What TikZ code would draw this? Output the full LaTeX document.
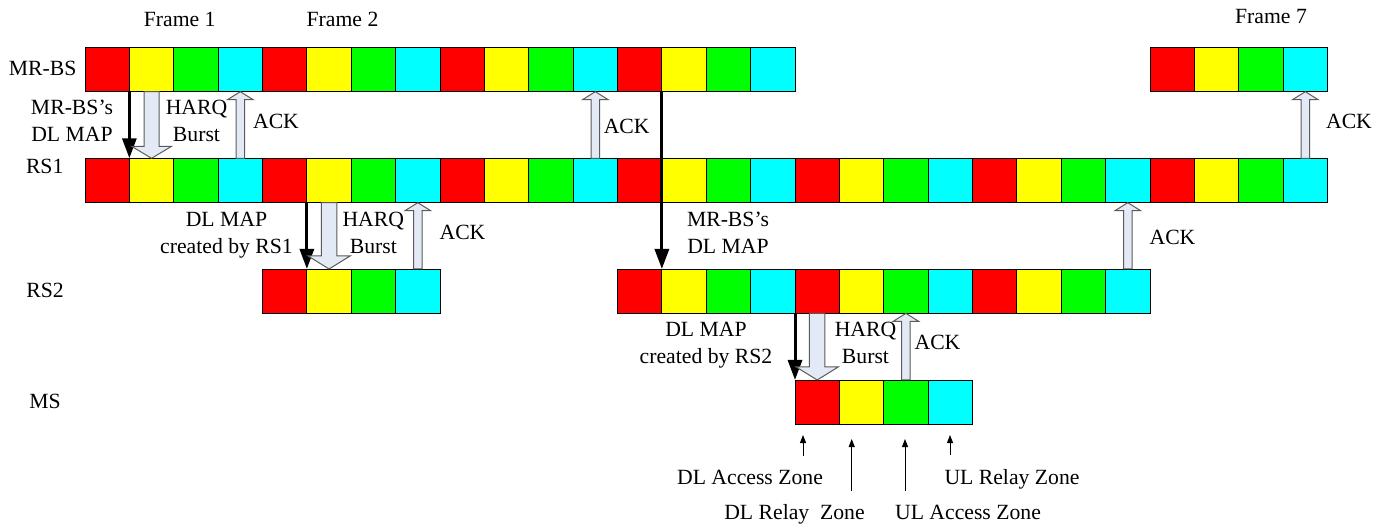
\documentclass[tikz,border=0pt]{standalone}
\usepackage{fontspec}
\setmainfont{Liberation Serif}
\usetikzlibrary{arrows.meta,calc}
\definecolor{c0}{RGB}{255,0,0}
\definecolor{c1}{RGB}{255,255,0}
\definecolor{c2}{RGB}{0,255,0}
\definecolor{c3}{RGB}{0,255,255}
\definecolor{arrowfill}{RGB}{228,234,245}
\definecolor{arrowdraw}{RGB}{90,90,90}
\newcommand\blockdown[5]{\path[hollow] let \p1=(#1), \p2=(#2) in
  (\x1-#3,\y1) -- (\x1-#3,\y2+#5) -- (\x1-#4,\y2+#5) -- (\x1,\y2) -- (\x1+#4,\y2+#5) -- (\x1+#3,\y2+#5) -- (\x1+#3,\y1) -- cycle;}
\newcommand\blockup[5]{\path[hollow] let \p1=(#1), \p2=(#2) in
  (\x1-#3,\y1) -- (\x1-#3,\y2-#5) -- (\x1-#4,\y2-#5) -- (\x1,\y2) -- (\x1+#4,\y2-#5) -- (\x1+#3,\y2-#5) -- (\x1+#3,\y1) -- cycle;}
\begin{document}
\begin{tikzpicture}[x=1pt,y=-1pt,
  cell/.style={draw=black,line width=0.9pt,minimum width=44.375pt,minimum height=44.375pt,inner sep=0pt,outer sep=0pt,anchor=north west},
  lbl/.style={font=\fontsize{21.7}{26.7}\selectfont,inner sep=0pt,anchor=base,align=center},
  dlmap/.style={line width=3pt,-{Triangle[length=20pt,width=14pt]}},
  hollow/.style={draw=arrowdraw,fill=arrowfill,line width=1pt,line join=miter},
  zone/.style={line width=1pt,-{Triangle[length=8pt,width=6pt]}}]
\useasboundingbox (0,0) rectangle (1384,526);
% rows of cells
\foreach \i in {0,...,15,24,25,26,27}{
  \pgfmathtruncatemacro\k{mod(\i,4)}
  \node[cell,fill=c\k] (m\i) at ({85+\i*44.375},47.3) {};}
\foreach \i in {4,...,7,12,13,...,23}{
  \pgfmathtruncatemacro\k{mod(\i,4)}
  \node[cell,fill=c\k] (b\i) at ({85+\i*44.375},269) {};}
\foreach \i in {16,...,19}{
  \pgfmathtruncatemacro\k{mod(\i,4)}
  \node[cell,fill=c\k] (s\i) at ({85+\i*44.375},380) {};}
\foreach \i in {0,...,27}{
  \pgfmathtruncatemacro\k{mod(\i,4)}
  \node[cell,fill=c\k] (a\i) at ({85+\i*44.375},158.3) {};}
% labels
\node[lbl] (f1) at (179.7,26.7) {Frame 1};
\node[lbl] (f2) at (342.5,26.7) {Frame 2};
\node[lbl] (f7) at (1271,23.3) {Frame 7};
\node[lbl] (lmrbs) at (42.7,76) {MR-BS};
\node[lbl] (lrs1) at (44.7,173.3) {RS1};
\node[lbl] (lrs2) at (45,297.3) {RS2};
\node[lbl] (lms) at (45,408.3) {MS};
\node[lbl] (t1) at (72,141.7) {MR-BS’s\\DL MAP};
\node[lbl] (t2) at (196.5,141.7) {HARQ\\Burst};
\node[lbl] (t3) at (276,129) {ACK};
\node[lbl] (t4) at (626.7,133.3) {ACK};
\node[lbl] (t5) at (1349,128.3) {ACK};
\node[lbl] (t6) at (226.5,253.3) {DL MAP\\created by RS1};
\node[lbl] (t7) at (373.3,253.3) {HARQ\\Burst};
\node[lbl] (t8) at (462.5,240) {ACK};
\node[lbl] (t9) at (728,253.3) {MR-BS’s\\DL MAP};
\node[lbl] (t10) at (1172.5,244.3) {ACK};
\node[lbl] (t11) at (706,363.3) {DL MAP\\created by RS2};
\node[lbl] (t12) at (865.5,363.3) {HARQ\\Burst};
\node[lbl] (t13) at (937.5,350) {ACK};
\node[lbl] (z1) at (750,484) {DL Access Zone};
\node[lbl] (z2) at (794.5,519.3) {DL Relay\ \ Zone};
\node[lbl] (z3) at (968,519.3) {UL Access Zone};
\node[lbl] (z4) at (1012,484) {UL Relay Zone};
% DL MAP arrows
\draw[dlmap] (m1.south west) -- (a1.north west);
\draw[dlmap] (m13.south west) -- (b13.north west);
\draw[dlmap] (a5.south west) -- (b5.north west);
\draw[dlmap] (b16.south west) -- (s16.north west);
% HARQ bursts
\blockdown{m1.south}{a1.north}{7.5pt}{20pt}{12pt}
\blockdown{a5.south}{b5.north}{7.8pt}{21pt}{13pt}
\blockdown{b16.south}{s16.north}{7.8pt}{21pt}{13pt}
% ACKs
\blockup{a3.north}{m3.south}{4.2pt}{12.8pt}{8pt}
\blockup{a11.north}{m11.south}{4.2pt}{12.8pt}{8pt}
\blockup{a27.north}{m27.south}{4.2pt}{12.8pt}{8pt}
\blockup{b7.north}{a7.south}{4.2pt}{12.8pt}{8pt}
\blockup{b23.north}{a23.south}{4.2pt}{12.8pt}{8pt}
\blockup{s18.north}{b18.south}{4.2pt}{12.8pt}{8pt}
% zone pointers
\coordinate (p1) at (803,456);   \coordinate (q1) at (803,435);
\coordinate (p2) at (851.7,491); \coordinate (q2) at (851.7,439);
\coordinate (p3) at (905,491);   \coordinate (q3) at (905,439);
\coordinate (p4) at (950,455);   \coordinate (q4) at (950,435);
\draw[zone] (p1) -- (q1);
\draw[zone] (p2) -- (q2);
\draw[zone] (p3) -- (q3);
\draw[zone] (p4) -- (q4);
\end{tikzpicture}
\end{document}
